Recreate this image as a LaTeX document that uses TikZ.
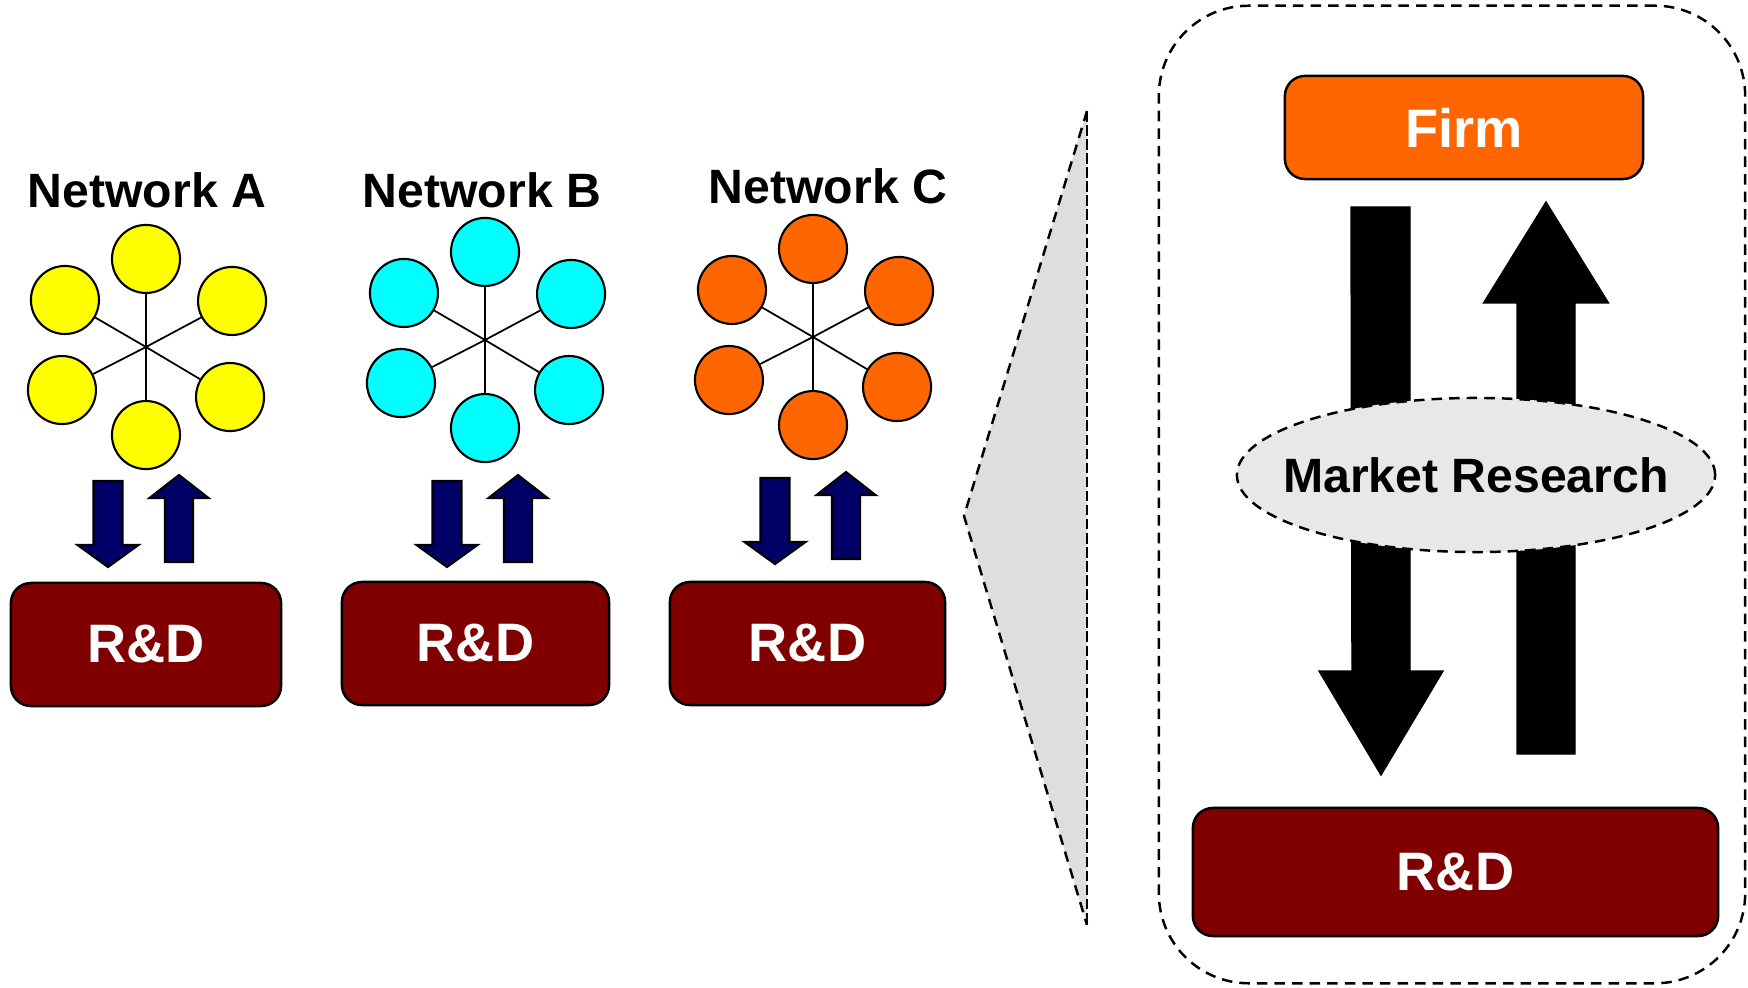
\documentclass[tikz,border=0pt]{standalone}
\usepackage{fontspec}
\setmainfont{Liberation Sans}
\usetikzlibrary{positioning, shapes.geometric}
\definecolor{rdred}{HTML}{800000}
\definecolor{firmorange}{HTML}{FF6600}
\definecolor{netyellow}{HTML}{FFFF00}
\definecolor{netcyan}{HTML}{00FFFF}
\definecolor{arrownavy}{HTML}{000066}
\definecolor{zoomgray}{HTML}{DEDEDE}
\definecolor{mrgray}{HTML}{E8E8E8}

\begin{document}
\begin{tikzpicture}[x=0.01cm, y=-0.01cm]

\tikzstyle{navyarrow} = [fill=arrownavy, draw=black, line width=0.6pt, line join=miter]
\tikzstyle{bigarrow} = [fill=black]
\tikzstyle{spoke} = [line width=0.5pt]
\tikzstyle{shortdash} = [dash pattern=on 3pt off 2pt, line width=0.7pt]
\tikzset{member/.style = {circle, draw, line width=0.6pt, minimum size=0.68cm, inner sep=0pt}, }
\tikzset{nettitle/.style = {font=\fontsize{13.7}{16}\selectfont\bfseries}, }
\tikzset{rdbox/.style = {rectangle, rounded corners=0.2cm, draw, line width=0.7pt, fill=rdred, text=white, font=\fontsize{15.4}{18}\selectfont\bfseries, minimum height=1.23cm}, }

\useasboundingbox (0,0) rectangle (1748,988);

\node[nettitle] (TA) at (147,190) {Network A};
\coordinate (hubA) at (146,347);
\node[member, fill=netyellow, above=0.88cm of hubA, anchor=center] (A1) {};
\node[member, fill=netyellow, above left=0.47cm and 0.81cm of hubA, anchor=center] (A2) {};
\node[member, fill=netyellow, above right=0.46cm and 0.86cm of hubA, anchor=center] (A3) {};
\node[member, fill=netyellow, below left=0.43cm and 0.84cm of hubA, anchor=center] (A4) {};
\node[member, fill=netyellow, below right=0.50cm and 0.84cm of hubA, anchor=center] (A5) {};
\node[member, fill=netyellow, below=0.88cm of hubA, anchor=center] (A6) {};

\node[nettitle] (TB) at (482,190) {Network B};
\coordinate (hubB) at (485,340);
\node[member, fill=netcyan, above=0.88cm of hubB, anchor=center] (B1) {};
\node[member, fill=netcyan, above left=0.47cm and 0.81cm of hubB, anchor=center] (B2) {};
\node[member, fill=netcyan, above right=0.46cm and 0.86cm of hubB, anchor=center] (B3) {};
\node[member, fill=netcyan, below left=0.43cm and 0.84cm of hubB, anchor=center] (B4) {};
\node[member, fill=netcyan, below right=0.50cm and 0.84cm of hubB, anchor=center] (B5) {};
\node[member, fill=netcyan, below=0.88cm of hubB, anchor=center] (B6) {};

\node[nettitle] (TC) at (828,186) {Network C};
\coordinate (hubC) at (813,337);
\node[member, fill=firmorange, above=0.88cm of hubC, anchor=center] (C1) {};
\node[member, fill=firmorange, above left=0.47cm and 0.81cm of hubC, anchor=center] (C2) {};
\node[member, fill=firmorange, above right=0.46cm and 0.86cm of hubC, anchor=center] (C3) {};
\node[member, fill=firmorange, below left=0.43cm and 0.84cm of hubC, anchor=center] (C4) {};
\node[member, fill=firmorange, below right=0.50cm and 0.84cm of hubC, anchor=center] (C5) {};
\node[member, fill=firmorange, below=0.88cm of hubC, anchor=center] (C6) {};

\path[draw, spoke]
(hubA) edge (A1) (hubA) edge (A2) (hubA) edge (A3)
(hubA) edge (A4) (hubA) edge (A5) (hubA) edge (A6)
(hubB) edge (B1) (hubB) edge (B2) (hubB) edge (B3)
(hubB) edge (B4) (hubB) edge (B5) (hubB) edge (B6)
(hubC) edge (C1) (hubC) edge (C2) (hubC) edge (C3)
(hubC) edge (C4) (hubC) edge (C5) (hubC) edge (C6);

\node[rdbox, minimum width=2.70cm] (RDA) at (146,644.5) {R\&D};
\node[rdbox, minimum width=2.67cm] (RDB) at (475.5,643.5) {R\&D};
\node[rdbox, minimum width=2.75cm] (RDC) at (807.5,643.5) {R\&D};

\draw[navyarrow] (93.5,481) -- ++(29,0) -- ++(0,64) -- ++(16,0) -- ++(-30.5,22) -- ++(-30.5,-22) -- ++(16,0) -- cycle;
\draw[navyarrow] (165,562) -- ++(28,0) -- ++(0,-64) -- ++(15.5,0) -- ++(-29.5,-23) -- ++(-29.5,23) -- ++(15.5,0) -- cycle;
\draw[navyarrow] (432.5,481) -- ++(29,0) -- ++(0,64) -- ++(16,0) -- ++(-30.5,22) -- ++(-30.5,-22) -- ++(16,0) -- cycle;
\draw[navyarrow] (504,562) -- ++(28,0) -- ++(0,-64) -- ++(15.5,0) -- ++(-29.5,-23) -- ++(-29.5,23) -- ++(15.5,0) -- cycle;
\draw[navyarrow] (760.5,478) -- ++(29,0) -- ++(0,64) -- ++(16,0) -- ++(-30.5,22) -- ++(-30.5,-22) -- ++(16,0) -- cycle;
\draw[navyarrow] (832,559) -- ++(28,0) -- ++(0,-64) -- ++(15.5,0) -- ++(-29.5,-23) -- ++(-29.5,23) -- ++(15.5,0) -- cycle;

\draw[shortdash, fill=zoomgray] (1087,111) -- (964,516) -- (1087,925);
\draw[dash pattern=on 3pt off 1pt, line width=0.7pt] (1087,111) -- (1087,925);

\node[draw, shortdash, rounded corners=0.9cm, minimum width=5.86cm, minimum height=9.77cm] (panel) at (1452,494.5) {};

\node[rectangle, rounded corners=0.2cm, draw, line width=0.7pt, fill=firmorange, text=white, font=\fontsize{15.4}{18}\selectfont\bfseries, minimum width=3.58cm, minimum height=1.03cm] (firm) at (1464,127.5) {Firm};
\node[rdbox, minimum width=5.25cm, minimum height=1.28cm] (RDbig) at (1455.5,872) {R\&D};

\draw[bigarrow] (1351,207) -- ++(59,0) -- ++(0,464) -- ++(33,0) -- ++(-62,104) -- ++(-62,-104) -- ++(33,0) -- cycle;
\draw[bigarrow] (1517,754) -- ++(58,0) -- ++(0,-451) -- ++(33.5,0) -- ++(-62.5,-101) -- ++(-62.5,101) -- ++(33.5,0) -- cycle;

\node[ellipse, draw, shortdash, fill=mrgray, minimum width=4.78cm, minimum height=1.54cm, inner sep=0pt, font=\fontsize{13.7}{16}\selectfont\bfseries] (market) at (1476,475) {\makebox[0pt]{Market Research}};
\end{tikzpicture}
\end{document}
